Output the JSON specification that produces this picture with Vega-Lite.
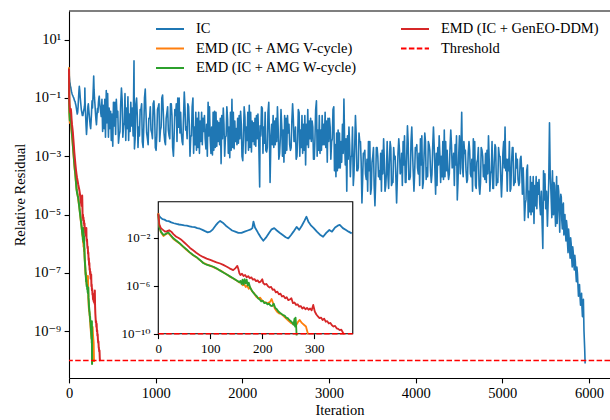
{
  "$schema": "https://vega.github.io/schema/vega-lite/v6.json",
  "width": 541,
  "height": 367,
  "autosize": "none",
  "padding": {"left": 69, "top": 11, "right": 0, "bottom": 42},
  "background": "white",
  "config": {
    "font": "Liberation Serif",
    "view": {"stroke": null},
    "axis": {
      "labelFont": "Liberation Serif, DejaVu Serif",
      "labelFontSize": 14.5,
      "labelColor": "#000",
      "titleFont": "Liberation Serif",
      "titleFontSize": 14.5,
      "titleFontWeight": "normal",
      "titleColor": "#000",
      "tickColor": "#000",
      "tickSize": 4.9,
      "tickWidth": 1.1,
      "labelPadding": 3.5,
      "grid": false,
      "domainColor": "#000",
      "domainWidth": 1.1,
      "labelFlush": false,
      "labelOverlap": false
    }
  },
  "datasets": {
    "ic": [
      {"iteration": 0, "residual": 0.79}, {"iteration": 4, "residual": 0.5}, {"iteration": 8, "residual": 0.35}, {"iteration": 12, "residual": 0.32},
      {"iteration": 16, "residual": 0.25}, {"iteration": 20, "residual": 0.24}, {"iteration": 25, "residual": 0.19}, {"iteration": 30, "residual": 0.16},
      {"iteration": 35, "residual": 0.14}, {"iteration": 40, "residual": 0.126}, {"iteration": 45, "residual": 0.117}, {"iteration": 50, "residual": 0.107},
      {"iteration": 55, "residual": 0.1}, {"iteration": 60, "residual": 0.089}, {"iteration": 65, "residual": 0.079}, {"iteration": 70, "residual": 0.076},
      {"iteration": 75, "residual": 0.063}, {"iteration": 80, "residual": 0.056}, {"iteration": 85, "residual": 0.045}, {"iteration": 90, "residual": 0.035},
      {"iteration": 95, "residual": 0.028}, {"iteration": 100, "residual": 0.032}, {"iteration": 105, "residual": 0.05}, {"iteration": 110, "residual": 0.1},
      {"iteration": 115, "residual": 0.18}, {"iteration": 119, "residual": 0.25}, {"iteration": 124, "residual": 0.18}, {"iteration": 130, "residual": 0.1},
      {"iteration": 136, "residual": 0.063}, {"iteration": 142, "residual": 0.04}, {"iteration": 148, "residual": 0.032}, {"iteration": 154, "residual": 0.025},
      {"iteration": 160, "residual": 0.025}, {"iteration": 166, "residual": 0.032}, {"iteration": 172, "residual": 0.04}, {"iteration": 178, "residual": 0.05},
      {"iteration": 181, "residual": 0.063}, {"iteration": 183, "residual": 0.22}, {"iteration": 186, "residual": 0.071}, {"iteration": 192, "residual": 0.025},
      {"iteration": 197, "residual": 0.011}, {"iteration": 202, "residual": 0.0056}, {"iteration": 207, "residual": 0.01}, {"iteration": 213, "residual": 0.025},
      {"iteration": 218, "residual": 0.05}, {"iteration": 223, "residual": 0.063}, {"iteration": 228, "residual": 0.04}, {"iteration": 234, "residual": 0.025},
      {"iteration": 240, "residual": 0.016}, {"iteration": 245, "residual": 0.011}, {"iteration": 250, "residual": 0.0089}, {"iteration": 255, "residual": 0.016},
      {"iteration": 260, "residual": 0.032}, {"iteration": 266, "residual": 0.079}, {"iteration": 271, "residual": 0.045}, {"iteration": 276, "residual": 0.1},
      {"iteration": 281, "residual": 0.25}, {"iteration": 285, "residual": 0.56}, {"iteration": 289, "residual": 0.2}, {"iteration": 294, "residual": 0.1},
      {"iteration": 299, "residual": 0.063}, {"iteration": 305, "residual": 0.032}, {"iteration": 311, "residual": 0.018}, {"iteration": 317, "residual": 0.012},
      {"iteration": 323, "residual": 0.025}, {"iteration": 329, "residual": 0.044}, {"iteration": 334, "residual": 0.032}, {"iteration": 340, "residual": 0.071},
      {"iteration": 345, "residual": 0.1}, {"iteration": 349, "residual": 0.115}, {"iteration": 355, "residual": 0.063}, {"iteration": 361, "residual": 0.044},
      {"iteration": 366, "residual": 0.032}, {"iteration": 372, "residual": 0.023},
      {"iteration": 380, "residual": 0.089}, {"iteration": 405, "residual": 0.0089}, {"iteration": 430, "residual": 0.18}, {"iteration": 455, "residual": 0.0045},
      {"iteration": 480, "residual": 0.035}, {"iteration": 505, "residual": 0.0022}, {"iteration": 530, "residual": 0.071}, {"iteration": 555, "residual": 0.022},
      {"iteration": 580, "residual": 0.0056}, {"iteration": 605, "residual": 0.22}, {"iteration": 630, "residual": 0.011}, {"iteration": 655, "residual": 0.0035},
      {"iteration": 680, "residual": 0.11}, {"iteration": 705, "residual": 0.0071}, {"iteration": 730, "residual": 0.045}, {"iteration": 750, "residual": 1.86},
      {"iteration": 755, "residual": 0.0018}, {"iteration": 780, "residual": 0.1}, {"iteration": 805, "residual": 0.01}, {"iteration": 830, "residual": 0.04},
      {"iteration": 855, "residual": 0.002}, {"iteration": 880, "residual": 0.2}, {"iteration": 905, "residual": 0.004}, {"iteration": 930, "residual": 0.02},
      {"iteration": 955, "residual": 0.0063}, {"iteration": 980, "residual": 0.079}, {"iteration": 1005, "residual": 0.0016}, {"iteration": 1030, "residual": 0.05},
      {"iteration": 1055, "residual": 0.0079}, {"iteration": 1080, "residual": 0.126}, {"iteration": 1105, "residual": 0.0032}, {"iteration": 1130, "residual": 0.032},
      {"iteration": 1155, "residual": 0.005}, {"iteration": 1180, "residual": 0.063}, {"iteration": 1205, "residual": 0.001}, {"iteration": 1230, "residual": 0.025},
      {"iteration": 1255, "residual": 0.1}, {"iteration": 1280, "residual": 0.0063}, {"iteration": 1305, "residual": 0.0032}, {"iteration": 1330, "residual": 0.16},
      {"iteration": 1355, "residual": 0.01}, {"iteration": 1380, "residual": 0.05}, {"iteration": 1405, "residual": 0.005}, {"iteration": 1430, "residual": 0.1},
      {"iteration": 1455, "residual": 0.0025}, {"iteration": 1480, "residual": 0.02}, {"iteration": 1505, "residual": 0.00126}, {"iteration": 1530, "residual": 0.032},
      {"iteration": 1555, "residual": 0.0071}, {"iteration": 1580, "residual": 0.0018}, {"iteration": 1605, "residual": 0.071}, {"iteration": 1630, "residual": 0.0035},
      {"iteration": 1655, "residual": 0.0011}, {"iteration": 1680, "residual": 0.035}, {"iteration": 1705, "residual": 0.0022}, {"iteration": 1730, "residual": 0.014},
      {"iteration": 1755, "residual": 0.00056}, {"iteration": 1780, "residual": 0.045}, {"iteration": 1805, "residual": 0.0045}, {"iteration": 1830, "residual": 0.018},
      {"iteration": 1855, "residual": 0.00089}, {"iteration": 1880, "residual": 0.089}, {"iteration": 1905, "residual": 0.0018}, {"iteration": 1930, "residual": 0.0089},
      {"iteration": 1955, "residual": 0.0028}, {"iteration": 1980, "residual": 0.035}, {"iteration": 2005, "residual": 0.00071}, {"iteration": 2030, "residual": 0.022},
      {"iteration": 2055, "residual": 0.0035}, {"iteration": 2080, "residual": 0.056}, {"iteration": 2105, "residual": 0.0014}, {"iteration": 2130, "residual": 0.014},
      {"iteration": 2155, "residual": 0.0022}, {"iteration": 2180, "residual": 0.028}, {"iteration": 2200, "residual": 0.000089}, {"iteration": 2205, "residual": 0.011},
      {"iteration": 2230, "residual": 0.045}, {"iteration": 2255, "residual": 0.0028}, {"iteration": 2280, "residual": 0.0014}, {"iteration": 2305, "residual": 0.071},
      {"iteration": 2320, "residual": 0.000126}, {"iteration": 2330, "residual": 0.0045}, {"iteration": 2355, "residual": 0.025}, {"iteration": 2380, "residual": 0.0025},
      {"iteration": 2405, "residual": 0.05}, {"iteration": 2430, "residual": 0.00126}, {"iteration": 2455, "residual": 0.01}, {"iteration": 2480, "residual": 0.00063},
      {"iteration": 2505, "residual": 0.02}, {"iteration": 2530, "residual": 0.0063}, {"iteration": 2555, "residual": 0.0016}, {"iteration": 2580, "residual": 0.063},
      {"iteration": 2605, "residual": 0.0032}, {"iteration": 2630, "residual": 0.001}, {"iteration": 2655, "residual": 0.032}, {"iteration": 2680, "residual": 0.002},
      {"iteration": 2705, "residual": 0.0126}, {"iteration": 2730, "residual": 0.0005}, {"iteration": 2755, "residual": 0.04}, {"iteration": 2780, "residual": 0.004},
      {"iteration": 2805, "residual": 0.016}, {"iteration": 2830, "residual": 0.00079}, {"iteration": 2855, "residual": 0.079}, {"iteration": 2880, "residual": 0.0016},
      {"iteration": 2905, "residual": 0.0079}, {"iteration": 2930, "residual": 0.0025}, {"iteration": 2955, "residual": 0.032}, {"iteration": 2980, "residual": 0.00063},
      {"iteration": 3005, "residual": 0.02}, {"iteration": 3030, "residual": 0.0032}, {"iteration": 3055, "residual": 0.05}, {"iteration": 3080, "residual": 0.0002},
      {"iteration": 3105, "residual": 0.0079}, {"iteration": 3130, "residual": 0.0004}, {"iteration": 3155, "residual": 0.0126}, {"iteration": 3172, "residual": 0.091},
      {"iteration": 3180, "residual": 0.0032}, {"iteration": 3205, "residual": 0.000063}, {"iteration": 3230, "residual": 0.01}, {"iteration": 3255, "residual": 0.001},
      {"iteration": 3280, "residual": 0.0001}, {"iteration": 3305, "residual": 0.025}, {"iteration": 3330, "residual": 0.00032}, {"iteration": 3355, "residual": 0.0032},
      {"iteration": 3380, "residual": 0.000025}, {"iteration": 3405, "residual": 0.00126}, {"iteration": 3430, "residual": 0.00016}, {"iteration": 3455, "residual": 0.0032},
      {"iteration": 3480, "residual": 0.00005}, {"iteration": 3505, "residual": 0.001}, {"iteration": 3530, "residual": 0.00002}, {"iteration": 3555, "residual": 0.002},
      {"iteration": 3580, "residual": 0.00032}, {"iteration": 3605, "residual": 0.000063}, {"iteration": 3630, "residual": 0.004}, {"iteration": 3655, "residual": 0.0001},
      {"iteration": 3680, "residual": 0.0002}, {"iteration": 3705, "residual": 0.0032}, {"iteration": 3730, "residual": 0.000126}, {"iteration": 3755, "residual": 0.00079},
      {"iteration": 3780, "residual": 0.000025}, {"iteration": 3805, "residual": 0.004}, {"iteration": 3830, "residual": 0.00032}, {"iteration": 3855, "residual": 0.0032},
      {"iteration": 3880, "residual": 0.000126}, {"iteration": 3905, "residual": 0.011}, {"iteration": 3930, "residual": 0.00016}, {"iteration": 3955, "residual": 0.01},
      {"iteration": 3980, "residual": 0.000063}, {"iteration": 4005, "residual": 0.0016}, {"iteration": 4030, "residual": 0.00025}, {"iteration": 4055, "residual": 0.004},
      {"iteration": 4080, "residual": 0.000079}, {"iteration": 4105, "residual": 0.0063}, {"iteration": 4130, "residual": 0.0004}, {"iteration": 4155, "residual": 0.0025},
      {"iteration": 4180, "residual": 0.000126}, {"iteration": 4205, "residual": 0.01}, {"iteration": 4230, "residual": 0.00005}, {"iteration": 4255, "residual": 0.002},
      {"iteration": 4280, "residual": 0.001}, {"iteration": 4305, "residual": 0.0002}, {"iteration": 4330, "residual": 0.0079}, {"iteration": 4355, "residual": 0.00032},
      {"iteration": 4380, "residual": 0.00016}, {"iteration": 4405, "residual": 0.0079}, {"iteration": 4430, "residual": 0.0005}, {"iteration": 4455, "residual": 0.0025},
      {"iteration": 4480, "residual": 0.000032}, {"iteration": 4505, "residual": 0.005}, {"iteration": 4531, "residual": 0.032}, {"iteration": 4540, "residual": 0.0004},
      {"iteration": 4565, "residual": 0.00126}, {"iteration": 4590, "residual": 0.000126}, {"iteration": 4615, "residual": 0.0032}, {"iteration": 4640, "residual": 0.0002},
      {"iteration": 4665, "residual": 0.004}, {"iteration": 4690, "residual": 0.0001}, {"iteration": 4715, "residual": 0.00079}, {"iteration": 4740, "residual": 0.00005},
      {"iteration": 4765, "residual": 0.0016}, {"iteration": 4790, "residual": 0.0005}, {"iteration": 4815, "residual": 0.000126}, {"iteration": 4840, "residual": 0.005},
      {"iteration": 4865, "residual": 0.00025}, {"iteration": 4890, "residual": 0.000079}, {"iteration": 4915, "residual": 0.0025}, {"iteration": 4940, "residual": 0.00016},
      {"iteration": 4965, "residual": 0.001}, {"iteration": 4990, "residual": 0.00004}, {"iteration": 5015, "residual": 0.0032}, {"iteration": 5031, "residual": 0.01},
      {"iteration": 5040, "residual": 0.00032}, {"iteration": 5065, "residual": 0.00079}, {"iteration": 5090, "residual": 0.000063}, {"iteration": 5115, "residual": 0.002},
      {"iteration": 5140, "residual": 0.000126}, {"iteration": 5165, "residual": 0.0004}, {"iteration": 5190, "residual": 0.0001}, {"iteration": 5215, "residual": 0.001},
      {"iteration": 5240, "residual": 0.0004}, {"iteration": 5265, "residual": 0.000025}, {"iteration": 5290, "residual": 0.0005}, {"iteration": 5315, "residual": 0.0000126},
      {"iteration": 5340, "residual": 0.000126}, {"iteration": 5365, "residual": 0.000005}, {"iteration": 5390, "residual": 0.0002}, {"iteration": 5415, "residual": 0.00005},
      {"iteration": 5440, "residual": 0.00001}, {"iteration": 5467, "residual": 6.9e-7}, {"iteration": 5475, "residual": 0.00032}, {"iteration": 5500, "residual": 0.000016},
      {"iteration": 5520, "residual": 0.000004}, {"iteration": 5535, "residual": 0.000126}, {"iteration": 5544, "residual": 0.014}, {"iteration": 5552, "residual": 0.00025},
      {"iteration": 5565, "residual": 0.000025}, {"iteration": 5578, "residual": 0.00032}, {"iteration": 5590, "residual": 0.00001}, {"iteration": 5602, "residual": 0.0001},
      {"iteration": 5614, "residual": 0.000004}, {"iteration": 5626, "residual": 0.0002}, {"iteration": 5638, "residual": 0.000016}, {"iteration": 5650, "residual": 0.000063},
      {"iteration": 5662, "residual": 0.0000025}, {"iteration": 5674, "residual": 0.00005}, {"iteration": 5686, "residual": 0.0000063}, {"iteration": 5698, "residual": 0.00002},
      {"iteration": 5710, "residual": 0.000002}, {"iteration": 5722, "residual": 0.00001}, {"iteration": 5734, "residual": 0.00000126}, {"iteration": 5746, "residual": 0.000004},
      {"iteration": 5758, "residual": 5.0e-7}, {"iteration": 5770, "residual": 1.6e-6}, {"iteration": 5782, "residual": 3.2e-7}, {"iteration": 5794, "residual": 1.0e-6},
      {"iteration": 5806, "residual": 1.6e-7}, {"iteration": 5818, "residual": 5.0e-7}, {"iteration": 5830, "residual": 1.26e-7}, {"iteration": 5842, "residual": 2.5e-7},
      {"iteration": 5854, "residual": 5.0e-8}, {"iteration": 5866, "residual": 1.0e-7}, {"iteration": 5878, "residual": 1.6e-8}, {"iteration": 5890, "residual": 4.0e-8},
      {"iteration": 5902, "residual": 7.9e-9}, {"iteration": 5914, "residual": 2.0e-8}, {"iteration": 5924, "residual": 3.2e-9}, {"iteration": 5935, "residual": 1.26e-8},
      {"iteration": 5942, "residual": 1.0e-9}, {"iteration": 5950, "residual": 2.5e-10}, {"iteration": 5955, "residual": 7.9e-11},

      {"iteration": 388, "residual": 0.0071}, {"iteration": 396, "residual": 0.056}, {"iteration": 413, "residual": 0.089}, {"iteration": 421, "residual": 0.0045},
      {"iteration": 438, "residual": 0.014}, {"iteration": 446, "residual": 0.14}, {"iteration": 463, "residual": 0.045}, {"iteration": 471, "residual": 0.0089},
      {"iteration": 488, "residual": 0.0035}, {"iteration": 496, "residual": 0.028}, {"iteration": 513, "residual": 0.071}, {"iteration": 521, "residual": 0.011},
      {"iteration": 538, "residual": 0.0056}, {"iteration": 546, "residual": 0.089}, {"iteration": 563, "residual": 0.035}, {"iteration": 571, "residual": 0.0028},
      {"iteration": 588, "residual": 0.0071}, {"iteration": 596, "residual": 0.056}, {"iteration": 613, "residual": 0.089}, {"iteration": 621, "residual": 0.0045},
      {"iteration": 638, "residual": 0.014}, {"iteration": 646, "residual": 0.14}, {"iteration": 663, "residual": 0.045}, {"iteration": 671, "residual": 0.0089},
      {"iteration": 688, "residual": 0.0035}, {"iteration": 696, "residual": 0.028}, {"iteration": 713, "residual": 0.071}, {"iteration": 721, "residual": 0.011},
      {"iteration": 740, "residual": 0.005}, {"iteration": 763, "residual": 0.004}, {"iteration": 771, "residual": 0.063},
      {"iteration": 788, "residual": 0.025}, {"iteration": 796, "residual": 0.002}, {"iteration": 813, "residual": 0.005}, {"iteration": 821, "residual": 0.04},
      {"iteration": 838, "residual": 0.063}, {"iteration": 846, "residual": 0.0032}, {"iteration": 863, "residual": 0.01}, {"iteration": 871, "residual": 0.1},
      {"iteration": 888, "residual": 0.032}, {"iteration": 896, "residual": 0.0063}, {"iteration": 913, "residual": 0.0025}, {"iteration": 921, "residual": 0.02},
      {"iteration": 938, "residual": 0.05}, {"iteration": 946, "residual": 0.0079}, {"iteration": 963, "residual": 0.004}, {"iteration": 971, "residual": 0.063},
      {"iteration": 988, "residual": 0.025}, {"iteration": 996, "residual": 0.002}, {"iteration": 1013, "residual": 0.005}, {"iteration": 1021, "residual": 0.04},
      {"iteration": 1038, "residual": 0.063}, {"iteration": 1046, "residual": 0.0032}, {"iteration": 1063, "residual": 0.01}, {"iteration": 1071, "residual": 0.1},
      {"iteration": 1088, "residual": 0.032}, {"iteration": 1096, "residual": 0.0063}, {"iteration": 1113, "residual": 0.0025}, {"iteration": 1121, "residual": 0.02},
      {"iteration": 1138, "residual": 0.05}, {"iteration": 1146, "residual": 0.0079}, {"iteration": 1163, "residual": 0.004}, {"iteration": 1171, "residual": 0.063},
      {"iteration": 1188, "residual": 0.025}, {"iteration": 1196, "residual": 0.002}, {"iteration": 1213, "residual": 0.005}, {"iteration": 1221, "residual": 0.04},
      {"iteration": 1238, "residual": 0.063}, {"iteration": 1246, "residual": 0.0032}, {"iteration": 1263, "residual": 0.01}, {"iteration": 1271, "residual": 0.1},
      {"iteration": 1288, "residual": 0.032}, {"iteration": 1296, "residual": 0.0063}, {"iteration": 1313, "residual": 0.0025}, {"iteration": 1321, "residual": 0.02},
      {"iteration": 1338, "residual": 0.05}, {"iteration": 1346, "residual": 0.0079}, {"iteration": 1363, "residual": 0.004}, {"iteration": 1371, "residual": 0.063},
      {"iteration": 1388, "residual": 0.0126}, {"iteration": 1396, "residual": 0.001}, {"iteration": 1413, "residual": 0.005}, {"iteration": 1421, "residual": 0.05},
      {"iteration": 1438, "residual": 0.00126}, {"iteration": 1446, "residual": 0.01}, {"iteration": 1463, "residual": 0.032}, {"iteration": 1471, "residual": 0.0016},
      {"iteration": 1488, "residual": 0.002}, {"iteration": 1496, "residual": 0.032}, {"iteration": 1513, "residual": 0.016}, {"iteration": 1521, "residual": 0.0032},
      {"iteration": 1538, "residual": 0.0025}, {"iteration": 1546, "residual": 0.02}, {"iteration": 1563, "residual": 0.025}, {"iteration": 1571, "residual": 0.004},
      {"iteration": 1588, "residual": 0.0126}, {"iteration": 1596, "residual": 0.001}, {"iteration": 1613, "residual": 0.005}, {"iteration": 1621, "residual": 0.05},
      {"iteration": 1638, "residual": 0.00126}, {"iteration": 1646, "residual": 0.01}, {"iteration": 1663, "residual": 0.032}, {"iteration": 1671, "residual": 0.0016},
      {"iteration": 1688, "residual": 0.002}, {"iteration": 1696, "residual": 0.032}, {"iteration": 1713, "residual": 0.016}, {"iteration": 1721, "residual": 0.0032},
      {"iteration": 1738, "residual": 0.0025}, {"iteration": 1746, "residual": 0.02}, {"iteration": 1763, "residual": 0.025}, {"iteration": 1771, "residual": 0.004},
      {"iteration": 1788, "residual": 0.0126}, {"iteration": 1796, "residual": 0.001}, {"iteration": 1813, "residual": 0.005}, {"iteration": 1821, "residual": 0.05},
      {"iteration": 1838, "residual": 0.00126}, {"iteration": 1846, "residual": 0.01}, {"iteration": 1863, "residual": 0.032}, {"iteration": 1871, "residual": 0.0016},
      {"iteration": 1888, "residual": 0.002}, {"iteration": 1896, "residual": 0.032}, {"iteration": 1913, "residual": 0.016}, {"iteration": 1921, "residual": 0.0032},
      {"iteration": 1938, "residual": 0.0025}, {"iteration": 1946, "residual": 0.02}, {"iteration": 1963, "residual": 0.025}, {"iteration": 1971, "residual": 0.004},
      {"iteration": 1988, "residual": 0.0126}, {"iteration": 1996, "residual": 0.001}, {"iteration": 2013, "residual": 0.005}, {"iteration": 2021, "residual": 0.05},
      {"iteration": 2038, "residual": 0.00126}, {"iteration": 2046, "residual": 0.01}, {"iteration": 2063, "residual": 0.032}, {"iteration": 2071, "residual": 0.0016},
      {"iteration": 2088, "residual": 0.002}, {"iteration": 2096, "residual": 0.032}, {"iteration": 2113, "residual": 0.016}, {"iteration": 2121, "residual": 0.0032},
      {"iteration": 2138, "residual": 0.0025}, {"iteration": 2146, "residual": 0.02}, {"iteration": 2163, "residual": 0.025}, {"iteration": 2171, "residual": 0.004},
      {"iteration": 2190, "residual": 0.0025}, {"iteration": 2213, "residual": 0.005}, {"iteration": 2221, "residual": 0.05},
      {"iteration": 2238, "residual": 0.00126}, {"iteration": 2246, "residual": 0.01}, {"iteration": 2263, "residual": 0.032}, {"iteration": 2271, "residual": 0.0016},
      {"iteration": 2288, "residual": 0.002}, {"iteration": 2296, "residual": 0.032}, {"iteration": 2312, "residual": 0.0063}, {"iteration": 2338, "residual": 0.0126},
      {"iteration": 2346, "residual": 0.0025}, {"iteration": 2363, "residual": 0.002}, {"iteration": 2371, "residual": 0.016},
      {"iteration": 2388, "residual": 0.02}, {"iteration": 2396, "residual": 0.0032}, {"iteration": 2413, "residual": 0.01}, {"iteration": 2421, "residual": 0.00079},
      {"iteration": 2438, "residual": 0.004}, {"iteration": 2446, "residual": 0.04}, {"iteration": 2463, "residual": 0.001}, {"iteration": 2471, "residual": 0.0079},
      {"iteration": 2488, "residual": 0.025}, {"iteration": 2496, "residual": 0.00126}, {"iteration": 2513, "residual": 0.0016}, {"iteration": 2521, "residual": 0.025},
      {"iteration": 2538, "residual": 0.0126}, {"iteration": 2546, "residual": 0.0025}, {"iteration": 2563, "residual": 0.002}, {"iteration": 2571, "residual": 0.016},
      {"iteration": 2588, "residual": 0.02}, {"iteration": 2596, "residual": 0.0032}, {"iteration": 2613, "residual": 0.01}, {"iteration": 2621, "residual": 0.00079},
      {"iteration": 2638, "residual": 0.004}, {"iteration": 2646, "residual": 0.04}, {"iteration": 2663, "residual": 0.001}, {"iteration": 2671, "residual": 0.0079},
      {"iteration": 2688, "residual": 0.025}, {"iteration": 2696, "residual": 0.00126}, {"iteration": 2713, "residual": 0.0016}, {"iteration": 2721, "residual": 0.025},
      {"iteration": 2738, "residual": 0.0126}, {"iteration": 2746, "residual": 0.0025}, {"iteration": 2763, "residual": 0.002}, {"iteration": 2771, "residual": 0.016},
      {"iteration": 2788, "residual": 0.02}, {"iteration": 2796, "residual": 0.0032}, {"iteration": 2813, "residual": 0.01}, {"iteration": 2821, "residual": 0.00079},
      {"iteration": 2838, "residual": 0.004}, {"iteration": 2846, "residual": 0.04}, {"iteration": 2863, "residual": 0.001}, {"iteration": 2871, "residual": 0.0079},
      {"iteration": 2888, "residual": 0.025}, {"iteration": 2896, "residual": 0.00126}, {"iteration": 2913, "residual": 0.0016}, {"iteration": 2921, "residual": 0.025},
      {"iteration": 2938, "residual": 0.0126}, {"iteration": 2946, "residual": 0.0025}, {"iteration": 2963, "residual": 0.002}, {"iteration": 2971, "residual": 0.016},
      {"iteration": 2988, "residual": 0.02}, {"iteration": 2996, "residual": 0.0032}, {"iteration": 3013, "residual": 0.01}, {"iteration": 3021, "residual": 0.00079},
      {"iteration": 3038, "residual": 0.004}, {"iteration": 3046, "residual": 0.04}, {"iteration": 3063, "residual": 0.00032}, {"iteration": 3071, "residual": 0.0025},
      {"iteration": 3088, "residual": 0.0063}, {"iteration": 3096, "residual": 0.00032}, {"iteration": 3113, "residual": 0.0004}, {"iteration": 3121, "residual": 0.0063},
      {"iteration": 3138, "residual": 0.0032}, {"iteration": 3146, "residual": 0.00063}, {"iteration": 3164, "residual": 0.00126}, {"iteration": 3188, "residual": 0.0005},
      {"iteration": 3196, "residual": 0.004}, {"iteration": 3213, "residual": 0.005}, {"iteration": 3221, "residual": 0.00079}, {"iteration": 3238, "residual": 0.0025},
      {"iteration": 3246, "residual": 0.0002}, {"iteration": 3263, "residual": 0.001}, {"iteration": 3271, "residual": 0.01}, {"iteration": 3288, "residual": 0.00025},
      {"iteration": 3296, "residual": 0.002}, {"iteration": 3313, "residual": 0.0063}, {"iteration": 3321, "residual": 0.00032}, {"iteration": 3338, "residual": 0.0004},
      {"iteration": 3346, "residual": 0.0063}, {"iteration": 3363, "residual": 0.0032}, {"iteration": 3371, "residual": 0.00063},
      {"iteration": 3388, "residual": 0.00016}, {"iteration": 3396, "residual": 0.00126}, {"iteration": 3413, "residual": 0.0016}, {"iteration": 3421, "residual": 0.00025},
      {"iteration": 3438, "residual": 0.00079}, {"iteration": 3446, "residual": 0.000063}, {"iteration": 3463, "residual": 0.00032}, {"iteration": 3471, "residual": 0.0032},
      {"iteration": 3488, "residual": 0.000079}, {"iteration": 3496, "residual": 0.00063}, {"iteration": 3513, "residual": 0.002}, {"iteration": 3521, "residual": 0.0001},
      {"iteration": 3538, "residual": 0.000126}, {"iteration": 3546, "residual": 0.002}, {"iteration": 3563, "residual": 0.001}, {"iteration": 3571, "residual": 0.0002},
      {"iteration": 3588, "residual": 0.00016}, {"iteration": 3596, "residual": 0.00126}, {"iteration": 3613, "residual": 0.0016}, {"iteration": 3621, "residual": 0.00025},
      {"iteration": 3638, "residual": 0.00079}, {"iteration": 3646, "residual": 0.000063}, {"iteration": 3663, "residual": 0.00032}, {"iteration": 3671, "residual": 0.0032},
      {"iteration": 3688, "residual": 0.000079}, {"iteration": 3696, "residual": 0.00063}, {"iteration": 3713, "residual": 0.002}, {"iteration": 3721, "residual": 0.0001},
      {"iteration": 3738, "residual": 0.000126}, {"iteration": 3746, "residual": 0.002}, {"iteration": 3763, "residual": 0.001}, {"iteration": 3771, "residual": 0.0002},
      {"iteration": 3788, "residual": 0.00016}, {"iteration": 3796, "residual": 0.00126}, {"iteration": 3813, "residual": 0.0016}, {"iteration": 3821, "residual": 0.00025},
      {"iteration": 3838, "residual": 0.00126}, {"iteration": 3846, "residual": 0.0001},
      {"iteration": 3863, "residual": 0.0005}, {"iteration": 3871, "residual": 0.005}, {"iteration": 3888, "residual": 0.000126}, {"iteration": 3896, "residual": 0.001},
      {"iteration": 3913, "residual": 0.0032}, {"iteration": 3921, "residual": 0.00016}, {"iteration": 3938, "residual": 0.0002}, {"iteration": 3946, "residual": 0.0032},
      {"iteration": 3963, "residual": 0.0016}, {"iteration": 3971, "residual": 0.00032}, {"iteration": 3988, "residual": 0.00025}, {"iteration": 3996, "residual": 0.002},
      {"iteration": 4013, "residual": 0.0025}, {"iteration": 4021, "residual": 0.0004}, {"iteration": 4038, "residual": 0.00126}, {"iteration": 4046, "residual": 0.0001},
      {"iteration": 4063, "residual": 0.0005}, {"iteration": 4071, "residual": 0.005}, {"iteration": 4088, "residual": 0.000126}, {"iteration": 4096, "residual": 0.001},
      {"iteration": 4113, "residual": 0.0032}, {"iteration": 4121, "residual": 0.00016}, {"iteration": 4138, "residual": 0.0002}, {"iteration": 4146, "residual": 0.0032},
      {"iteration": 4163, "residual": 0.0016}, {"iteration": 4171, "residual": 0.00032}, {"iteration": 4188, "residual": 0.00025}, {"iteration": 4196, "residual": 0.002},
      {"iteration": 4213, "residual": 0.0025}, {"iteration": 4221, "residual": 0.0004}, {"iteration": 4238, "residual": 0.00126}, {"iteration": 4246, "residual": 0.0001},
      {"iteration": 4263, "residual": 0.0005}, {"iteration": 4271, "residual": 0.005}, {"iteration": 4288, "residual": 0.000126}, {"iteration": 4296, "residual": 0.001},
      {"iteration": 4313, "residual": 0.0032}, {"iteration": 4321, "residual": 0.00016}, {"iteration": 4338, "residual": 0.0002}, {"iteration": 4346, "residual": 0.0032},
      {"iteration": 4363, "residual": 0.0016}, {"iteration": 4371, "residual": 0.00032}, {"iteration": 4388, "residual": 0.00025}, {"iteration": 4396, "residual": 0.002},
      {"iteration": 4413, "residual": 0.0025}, {"iteration": 4421, "residual": 0.0004}, {"iteration": 4438, "residual": 0.00126}, {"iteration": 4446, "residual": 0.0001},
      {"iteration": 4463, "residual": 0.0005}, {"iteration": 4471, "residual": 0.005}, {"iteration": 4488, "residual": 0.000126}, {"iteration": 4496, "residual": 0.001},
      {"iteration": 4515, "residual": 0.00025}, {"iteration": 4523, "residual": 0.002}, {"iteration": 4548, "residual": 0.0002}, {"iteration": 4556, "residual": 0.0032},
      {"iteration": 4573, "residual": 0.0016}, {"iteration": 4581, "residual": 0.00032}, {"iteration": 4598, "residual": 0.00016}, {"iteration": 4606, "residual": 0.00126},
      {"iteration": 4623, "residual": 0.0016}, {"iteration": 4631, "residual": 0.00025}, {"iteration": 4648, "residual": 0.00079}, {"iteration": 4656, "residual": 0.000063},
      {"iteration": 4673, "residual": 0.00032}, {"iteration": 4681, "residual": 0.0032}, {"iteration": 4698, "residual": 0.000079}, {"iteration": 4706, "residual": 0.00063},
      {"iteration": 4723, "residual": 0.002}, {"iteration": 4731, "residual": 0.0001}, {"iteration": 4748, "residual": 0.000126}, {"iteration": 4756, "residual": 0.002},
      {"iteration": 4773, "residual": 0.001}, {"iteration": 4781, "residual": 0.0002}, {"iteration": 4798, "residual": 0.00016}, {"iteration": 4806, "residual": 0.00126},
      {"iteration": 4823, "residual": 0.0016}, {"iteration": 4831, "residual": 0.00025}, {"iteration": 4848, "residual": 0.00079}, {"iteration": 4856, "residual": 0.000063},
      {"iteration": 4873, "residual": 0.00032}, {"iteration": 4881, "residual": 0.0032}, {"iteration": 4898, "residual": 0.000079}, {"iteration": 4906, "residual": 0.00063},
      {"iteration": 4923, "residual": 0.002}, {"iteration": 4931, "residual": 0.0001}, {"iteration": 4948, "residual": 0.000126}, {"iteration": 4956, "residual": 0.002},
      {"iteration": 4973, "residual": 0.001}, {"iteration": 4981, "residual": 0.0002}, {"iteration": 4998, "residual": 0.00016}, {"iteration": 5006, "residual": 0.00126},
      {"iteration": 5023, "residual": 0.0004}, {"iteration": 5048, "residual": 0.00079}, {"iteration": 5056, "residual": 0.000063}, {"iteration": 5073, "residual": 0.00032},
      {"iteration": 5081, "residual": 0.0032}, {"iteration": 5098, "residual": 0.000079}, {"iteration": 5106, "residual": 0.00063}, {"iteration": 5123, "residual": 0.002},
      {"iteration": 5131, "residual": 0.0001}, {"iteration": 5148, "residual": 0.000126}, {"iteration": 5156, "residual": 0.00126}, {"iteration": 5173, "residual": 0.00079},
      {"iteration": 5181, "residual": 0.00016}, {"iteration": 5198, "residual": 0.000126}, {"iteration": 5206, "residual": 0.00079}, {"iteration": 5223, "residual": 0.00032},
      {"iteration": 5231, "residual": 0.00005}, {"iteration": 5248, "residual": 0.000079}, {"iteration": 5256, "residual": 0.0000063}, {"iteration": 5273, "residual": 0.000032},
      {"iteration": 5281, "residual": 0.00032}, {"iteration": 5298, "residual": 0.0000079}, {"iteration": 5306, "residual": 0.000063}, {"iteration": 5323, "residual": 0.0002},
      {"iteration": 5331, "residual": 0.00001}, {"iteration": 5348, "residual": 0.0000126}, {"iteration": 5356, "residual": 0.0002}, {"iteration": 5373, "residual": 0.0001},
      {"iteration": 5381, "residual": 0.00002}, {"iteration": 5398, "residual": 0.000016}, {"iteration": 5406, "residual": 0.000126}, {"iteration": 5423, "residual": 0.00016},
      {"iteration": 5431, "residual": 0.000025}, {"iteration": 5450, "residual": 0.000063}, {"iteration": 5458, "residual": 0.0000063}, {"iteration": 5483, "residual": 0.000032},
      {"iteration": 5491, "residual": 0.00025}, {"iteration": 5510, "residual": 0.000063}, {"iteration": 5528, "residual": 0.000025},
      {"iteration": 5558, "residual": 0.0001}, {"iteration": 5571, "residual": 0.0000079}, {"iteration": 5584, "residual": 0.00005}, {"iteration": 5596, "residual": 0.000126},
      {"iteration": 5608, "residual": 0.0000126}, {"iteration": 5620, "residual": 0.000032}, {"iteration": 5632, "residual": 0.000005}, {"iteration": 5644, "residual": 0.0001},
      {"iteration": 5656, "residual": 0.0000126}, {"iteration": 5668, "residual": 0.000025}, {"iteration": 5680, "residual": 0.00004}, {"iteration": 5692, "residual": 0.0000032},
      {"iteration": 5704, "residual": 0.000025}, {"iteration": 5716, "residual": 0.000005}, {"iteration": 5728, "residual": 0.0000025}, {"iteration": 5740, "residual": 0.0000063},
      {"iteration": 5752, "residual": 1.0e-6}, {"iteration": 5764, "residual": 3.2e-6}, {"iteration": 5776, "residual": 6.3e-7}, {"iteration": 5788, "residual": 1.6e-6},
      {"iteration": 5800, "residual": 3.2e-7}, {"iteration": 5812, "residual": 7.9e-7}, {"iteration": 5824, "residual": 2.0e-7}, {"iteration": 5836, "residual": 4.0e-7},
      {"iteration": 5848, "residual": 1.0e-7}, {"iteration": 5860, "residual": 1.6e-7}, {"iteration": 5872, "residual": 4.0e-8}, {"iteration": 5884, "residual": 2.5e-8},
      {"iteration": 5896, "residual": 1.6e-8}, {"iteration": 5908, "residual": 1.26e-8}, {"iteration": 5919, "residual": 6.3e-9}, {"iteration": 5930, "residual": 5.0e-9},
      {"iteration": 5946, "residual": 5.0e-10}
    ],
    "vcycle": [
      {"iteration": 0, "residual": 1.12}, {"iteration": 2, "residual": 0.1}, {"iteration": 5, "residual": 0.028}, {"iteration": 10, "residual": 0.014},
      {"iteration": 14, "residual": 0.019}, {"iteration": 19, "residual": 0.025}, {"iteration": 24, "residual": 0.014}, {"iteration": 29, "residual": 0.0079},
      {"iteration": 35, "residual": 0.005}, {"iteration": 41, "residual": 0.0032}, {"iteration": 48, "residual": 0.0017}, {"iteration": 54, "residual": 0.001},
      {"iteration": 60, "residual": 0.0006}, {"iteration": 67, "residual": 0.00035}, {"iteration": 73, "residual": 0.00024}, {"iteration": 80, "residual": 0.000135},
      {"iteration": 87, "residual": 7.9e-5}, {"iteration": 93, "residual": 6.0e-5}, {"iteration": 100, "residual": 4.7e-5}, {"iteration": 106, "residual": 3.5e-5},
      {"iteration": 112, "residual": 2.6e-5}, {"iteration": 119, "residual": 1.9e-5}, {"iteration": 125, "residual": 1.3e-5}, {"iteration": 131, "residual": 8.9e-6},
      {"iteration": 137, "residual": 6.0e-6}, {"iteration": 144, "residual": 4.0e-6}, {"iteration": 150, "residual": 2.8e-6}, {"iteration": 156, "residual": 1.8e-6},
      {"iteration": 159, "residual": 2.2e-6}, {"iteration": 162, "residual": 1.1e-6}, {"iteration": 165, "residual": 1.4e-6}, {"iteration": 168, "residual": 7.9e-7},
      {"iteration": 171, "residual": 1.0e-6}, {"iteration": 174, "residual": 5.6e-7}, {"iteration": 177, "residual": 7.1e-7}, {"iteration": 180, "residual": 3.5e-7},
      {"iteration": 184, "residual": 2.5e-7}, {"iteration": 188, "residual": 1.26e-7}, {"iteration": 192, "residual": 8.9e-8}, {"iteration": 196, "residual": 1.0e-7},
      {"iteration": 200, "residual": 5.6e-8}, {"iteration": 205, "residual": 4.0e-8}, {"iteration": 210, "residual": 3.5e-8}, {"iteration": 215, "residual": 4.5e-8},
      {"iteration": 218, "residual": 7.9e-8}, {"iteration": 221, "residual": 3.2e-8}, {"iteration": 224, "residual": 1.26e-8}, {"iteration": 228, "residual": 7.1e-9},
      {"iteration": 232, "residual": 5.0e-9}, {"iteration": 236, "residual": 4.5e-9}, {"iteration": 240, "residual": 3.2e-9}, {"iteration": 245, "residual": 2.0e-9},
      {"iteration": 250, "residual": 1.26e-9}, {"iteration": 255, "residual": 7.9e-10}, {"iteration": 260, "residual": 6.3e-10}, {"iteration": 265, "residual": 5.0e-10},
      {"iteration": 269, "residual": 1.0e-9}, {"iteration": 272, "residual": 1.4e-9}, {"iteration": 276, "residual": 7.9e-10}, {"iteration": 280, "residual": 5.6e-10},
      {"iteration": 284, "residual": 4.0e-10}, {"iteration": 288, "residual": 8.9e-11}
    ],
    "wcycle": [
      {"iteration": 0, "residual": 1.0}, {"iteration": 2, "residual": 0.079}, {"iteration": 5, "residual": 0.032}, {"iteration": 10, "residual": 0.017},
      {"iteration": 14, "residual": 0.02}, {"iteration": 19, "residual": 0.028}, {"iteration": 24, "residual": 0.016}, {"iteration": 29, "residual": 0.0089},
      {"iteration": 35, "residual": 0.0056}, {"iteration": 41, "residual": 0.0035}, {"iteration": 48, "residual": 0.0018}, {"iteration": 54, "residual": 0.0011},
      {"iteration": 60, "residual": 0.00063}, {"iteration": 67, "residual": 0.00036}, {"iteration": 73, "residual": 0.00025}, {"iteration": 80, "residual": 0.00014},
      {"iteration": 87, "residual": 7.4e-5}, {"iteration": 93, "residual": 5.6e-5}, {"iteration": 100, "residual": 4.5e-5}, {"iteration": 106, "residual": 3.8e-5},
      {"iteration": 112, "residual": 2.8e-5}, {"iteration": 119, "residual": 1.8e-5}, {"iteration": 125, "residual": 1.26e-5}, {"iteration": 131, "residual": 8.9e-6},
      {"iteration": 137, "residual": 6.3e-6}, {"iteration": 144, "residual": 4.2e-6}, {"iteration": 150, "residual": 2.8e-6}, {"iteration": 156, "residual": 2.0e-6},
      {"iteration": 158, "residual": 2.5e-6}, {"iteration": 160, "residual": 1.4e-6}, {"iteration": 162, "residual": 3.2e-6}, {"iteration": 164, "residual": 1.26e-6},
      {"iteration": 166, "residual": 3.5e-6}, {"iteration": 168, "residual": 1.6e-6}, {"iteration": 170, "residual": 3.2e-6}, {"iteration": 172, "residual": 1.0e-6},
      {"iteration": 174, "residual": 1.8e-6}, {"iteration": 177, "residual": 6.3e-7}, {"iteration": 180, "residual": 4.0e-7}, {"iteration": 183, "residual": 2.5e-7},
      {"iteration": 186, "residual": 1.8e-7}, {"iteration": 189, "residual": 1.4e-7}, {"iteration": 192, "residual": 8.9e-8}, {"iteration": 195, "residual": 7.1e-8},
      {"iteration": 198, "residual": 5.0e-8}, {"iteration": 201, "residual": 5.6e-8}, {"iteration": 204, "residual": 3.5e-8}, {"iteration": 207, "residual": 4.0e-8},
      {"iteration": 210, "residual": 2.8e-8}, {"iteration": 213, "residual": 3.2e-8}, {"iteration": 216, "residual": 2.2e-8}, {"iteration": 219, "residual": 2.0e-8},
      {"iteration": 222, "residual": 3.2e-8}, {"iteration": 225, "residual": 1.4e-8}, {"iteration": 228, "residual": 1.1e-8}, {"iteration": 231, "residual": 7.1e-9},
      {"iteration": 234, "residual": 5.6e-9}, {"iteration": 237, "residual": 4.5e-9}, {"iteration": 240, "residual": 3.5e-9}, {"iteration": 243, "residual": 3.2e-9},
      {"iteration": 246, "residual": 2.2e-9}, {"iteration": 249, "residual": 2.0e-9}, {"iteration": 252, "residual": 1.4e-9}, {"iteration": 255, "residual": 1.1e-9},
      {"iteration": 258, "residual": 7.9e-10}, {"iteration": 260, "residual": 5.6e-10}, {"iteration": 262, "residual": 1.8e-9}, {"iteration": 263, "residual": 4.0e-10},
      {"iteration": 264, "residual": 2.2e-9}, {"iteration": 265, "residual": 6.3e-10}, {"iteration": 266, "residual": 7.1e-11}
    ],
    "geneo": [
      {"iteration": 0, "residual": 1.0}, {"iteration": 2, "residual": 0.126}, {"iteration": 5, "residual": 0.063}, {"iteration": 9, "residual": 0.045},
      {"iteration": 13, "residual": 0.032}, {"iteration": 17, "residual": 0.035}, {"iteration": 21, "residual": 0.042}, {"iteration": 25, "residual": 0.032},
      {"iteration": 29, "residual": 0.02}, {"iteration": 34, "residual": 0.0126}, {"iteration": 40, "residual": 0.0089}, {"iteration": 45, "residual": 0.0063},
      {"iteration": 50, "residual": 0.004}, {"iteration": 55, "residual": 0.0025}, {"iteration": 61, "residual": 0.0014}, {"iteration": 67, "residual": 0.00089},
      {"iteration": 73, "residual": 0.00056}, {"iteration": 80, "residual": 0.00035}, {"iteration": 86, "residual": 0.00025}, {"iteration": 93, "residual": 0.00018},
      {"iteration": 100, "residual": 0.00014}, {"iteration": 106, "residual": 0.00011}, {"iteration": 112, "residual": 8.9e-5}, {"iteration": 119, "residual": 7.1e-5},
      {"iteration": 125, "residual": 5.4e-5}, {"iteration": 131, "residual": 4.0e-5}, {"iteration": 137, "residual": 2.8e-5}, {"iteration": 144, "residual": 2.0e-5},
      {"iteration": 148, "residual": 2.8e-5}, {"iteration": 150, "residual": 3.5e-5}, {"iteration": 152, "residual": 4.5e-5}, {"iteration": 154, "residual": 2.5e-5},
      {"iteration": 156, "residual": 1.1e-5}, {"iteration": 158, "residual": 7.9e-6}, {"iteration": 161, "residual": 1.0e-5}, {"iteration": 164, "residual": 6.3e-6},
      {"iteration": 167, "residual": 7.9e-6}, {"iteration": 170, "residual": 5.0e-6}, {"iteration": 173, "residual": 6.3e-6}, {"iteration": 176, "residual": 4.2e-6},
      {"iteration": 179, "residual": 5.0e-6}, {"iteration": 182, "residual": 3.2e-6}, {"iteration": 185, "residual": 3.5e-6}, {"iteration": 188, "residual": 2.4e-6},
      {"iteration": 191, "residual": 2.8e-6}, {"iteration": 194, "residual": 1.9e-6}, {"iteration": 197, "residual": 2.2e-6}, {"iteration": 200, "residual": 3.5e-6},
      {"iteration": 202, "residual": 1.6e-6}, {"iteration": 205, "residual": 1.26e-6}, {"iteration": 208, "residual": 1.4e-6}, {"iteration": 211, "residual": 8.9e-7},
      {"iteration": 214, "residual": 7.1e-7}, {"iteration": 217, "residual": 7.9e-7}, {"iteration": 220, "residual": 4.5e-7}, {"iteration": 223, "residual": 5.0e-7},
      {"iteration": 226, "residual": 2.8e-7}, {"iteration": 229, "residual": 3.2e-7}, {"iteration": 232, "residual": 1.9e-7}, {"iteration": 235, "residual": 2.2e-7},
      {"iteration": 238, "residual": 1.26e-7}, {"iteration": 241, "residual": 1.4e-7}, {"iteration": 244, "residual": 8.9e-8}, {"iteration": 247, "residual": 1.1e-7},
      {"iteration": 250, "residual": 6.3e-8}, {"iteration": 253, "residual": 7.1e-8}, {"iteration": 256, "residual": 8.9e-8}, {"iteration": 259, "residual": 3.5e-8},
      {"iteration": 262, "residual": 4.0e-8}, {"iteration": 265, "residual": 2.5e-8}, {"iteration": 268, "residual": 2.8e-8}, {"iteration": 271, "residual": 1.8e-8},
      {"iteration": 274, "residual": 2.0e-8}, {"iteration": 277, "residual": 1.26e-8}, {"iteration": 280, "residual": 1.6e-8}, {"iteration": 283, "residual": 1.1e-8},
      {"iteration": 286, "residual": 1.4e-8}, {"iteration": 289, "residual": 1.0e-8}, {"iteration": 292, "residual": 1.26e-8}, {"iteration": 295, "residual": 8.9e-9},
      {"iteration": 298, "residual": 2.5e-8}, {"iteration": 301, "residual": 7.1e-9}, {"iteration": 304, "residual": 4.0e-9}, {"iteration": 307, "residual": 2.8e-9},
      {"iteration": 310, "residual": 2.0e-9}, {"iteration": 313, "residual": 2.2e-9}, {"iteration": 316, "residual": 1.4e-9}, {"iteration": 319, "residual": 1.8e-9},
      {"iteration": 322, "residual": 1.0e-9}, {"iteration": 325, "residual": 1.1e-9}, {"iteration": 328, "residual": 7.1e-10}, {"iteration": 331, "residual": 7.9e-10},
      {"iteration": 334, "residual": 5.0e-10}, {"iteration": 337, "residual": 4.0e-10}, {"iteration": 340, "residual": 4.5e-10}, {"iteration": 343, "residual": 2.8e-10},
      {"iteration": 346, "residual": 2.5e-10}, {"iteration": 349, "residual": 2.0e-10}, {"iteration": 352, "residual": 2.2e-10}, {"iteration": 355, "residual": 1.26e-10},
      {"iteration": 357, "residual": 9.5e-11}
    ]
  },
  "layer": [
    {
      "layer": [
        {
          "data": {"name": "ic"},
          "mark": {"type": "line", "strokeWidth": 1.6, "strokeJoin": "round"},
          "encoding": {
            "x": {"field": "iteration", "type": "quantitative", "scale": {"domain": [0, 6242], "nice": false, "zero": false},
              "axis": {"title": "Iteration", "values": [0, 1000, 2000, 3000, 4000, 5000, 6000], "format": "d", "domain": true, "titlePadding": 4}},
            "y": {"field": "residual", "type": "quantitative", "scale": {"type": "log", "domain": [2.51e-11, 95.5], "nice": false},
              "axis": {"title": "Relative Residual", "values": [10, 0.1, 0.001, 0.00001, 1e-7, 1e-9], "domain": true, "titlePadding": 6,
                "labelExpr": "'10' + replace(replace(replace(replace(replace(replace(replace(replace(replace(replace(replace('' + round(log(datum.value) / LN10), '-', '⁻'), '0', '⁰'), '1', '¹'), '2', '²'), '3', '³'), '4', '⁴'), '5', '⁵'), '6', '⁶'), '7', '⁷'), '8', '⁸'), '9', '⁹')"}},
            "color": {"datum": "IC", "type": "nominal",
              "scale": {"domain": ["IC", "EMD (IC + AMG V-cycle)", "EMD (IC + AMG W-cycle)", "EMD (IC + GenEO-DDM)", "Threshold"],
                        "range": ["#1f77b4", "#ff7f0e", "#2ca02c", "#d62728", "#ff0000"]},
              "legend": {"title": null, "orient": "none", "legendX": 86, "legendY": 11, "columns": 2, "symbolType": "stroke", "symbolSize": 784,
                "symbolStrokeWidth": 2, "labelFont": "Liberation Serif", "labelFontSize": 14.5, "labelColor": "#000", "labelOffset": 11, "labelLimit": 400,
                "rowPadding": 4.5, "columnPadding": 42, "clipHeight": 14, "padding": 0,
                "encode": {"symbols": {"update": {"strokeDash": {"signal": "datum.value === 'Threshold' ? [5.5, 2.4] : [1, 0]"}}}}}}
          }
        },
        {
          "data": {"name": "vcycle"},
          "mark": {"type": "line", "strokeWidth": 2, "strokeJoin": "round"},
          "encoding": {
            "x": {"field": "iteration", "type": "quantitative", "scale": {"domain": [0, 6242], "nice": false, "zero": false}},
            "y": {"field": "residual", "type": "quantitative", "scale": {"type": "log", "domain": [2.51e-11, 95.5], "nice": false}},
            "color": {"datum": "EMD (IC + AMG V-cycle)", "type": "nominal"}
          }
        },
        {
          "data": {"name": "wcycle"},
          "mark": {"type": "line", "strokeWidth": 2, "strokeJoin": "round"},
          "encoding": {
            "x": {"field": "iteration", "type": "quantitative", "scale": {"domain": [0, 6242], "nice": false, "zero": false}},
            "y": {"field": "residual", "type": "quantitative", "scale": {"type": "log", "domain": [2.51e-11, 95.5], "nice": false}},
            "color": {"datum": "EMD (IC + AMG W-cycle)", "type": "nominal"}
          }
        },
        {
          "data": {"name": "geneo"},
          "mark": {"type": "line", "strokeWidth": 2, "strokeJoin": "round"},
          "encoding": {
            "x": {"field": "iteration", "type": "quantitative", "scale": {"domain": [0, 6242], "nice": false, "zero": false}},
            "y": {"field": "residual", "type": "quantitative", "scale": {"type": "log", "domain": [2.51e-11, 95.5], "nice": false}},
            "color": {"datum": "EMD (IC + GenEO-DDM)", "type": "nominal"}
          }
        },
        {
          "data": {"values": [{}]},
          "mark": {"type": "rule", "color": "#ff0000", "strokeWidth": 1.5, "strokeDash": [5.5, 2.4]},
          "encoding": {"y": {"datum": 1e-10, "type": "quantitative", "scale": {"type": "log", "domain": [2.51e-11, 95.5], "nice": false}}}
        },
        {
          "data": {"values": [{}]},
          "mark": {"type": "rule", "color": "#000", "strokeWidth": 1.1},
          "encoding": {"y": {"datum": 95.5, "type": "quantitative", "scale": {"type": "log", "domain": [2.51e-11, 95.5], "nice": false}}}
        }
      ]
    },
    {
      "layer": [
        {
          "data": {"values": [{}]},
          "mark": {"type": "rect", "fill": "white", "stroke": "#000", "strokeWidth": 1.1},
          "encoding": {
            "x": {"datum": 0, "type": "quantitative", "scale": {"domain": [-171.7, 868.7], "nice": false, "zero": false},
              "axis": {"orient": "bottom", "offset": -44.3, "values": [0, 100, 200, 300], "format": "d", "domain": false, "title": null, "labelFontSize": 13, "zindex": 1}},
            "x2": {"datum": 374},
            "y": {"datum": 1e-10, "type": "quantitative", "scale": {"type": "log", "domain": [2.04e-14, 7.76e16], "nice": false},
              "axis": {"orient": "left", "offset": -89.3, "values": [0.01, 0.000001, 1e-10], "domain": false, "title": null, "labelFontSize": 13, "zindex": 1,
                "labelExpr": "'10' + replace(replace(replace(replace(replace(replace(replace(replace(replace(replace(replace('' + round(log(datum.value) / LN10), '-', '⁻'), '0', '⁰'), '1', '¹'), '2', '²'), '3', '³'), '4', '⁴'), '5', '⁵'), '6', '⁶'), '7', '⁷'), '8', '⁸'), '9', '⁹')"}},
            "y2": {"datum": 10}
          }
        },
        {
          "data": {"name": "ic"},
          "transform": [{"filter": "datum.iteration <= 374"}],
          "mark": {"type": "line", "strokeWidth": 1.8, "strokeJoin": "round"},
          "encoding": {
            "x": {"field": "iteration", "type": "quantitative", "scale": {"domain": [-171.7, 868.7], "nice": false, "zero": false}},
            "y": {"field": "residual", "type": "quantitative", "scale": {"type": "log", "domain": [2.04e-14, 7.76e16], "nice": false}},
            "color": {"datum": "IC", "type": "nominal"}
          }
        },
        {
          "data": {"name": "vcycle"},
          "mark": {"type": "line", "strokeWidth": 1.8, "strokeJoin": "round"},
          "encoding": {
            "x": {"field": "iteration", "type": "quantitative", "scale": {"domain": [-171.7, 868.7], "nice": false, "zero": false}},
            "y": {"field": "residual", "type": "quantitative", "scale": {"type": "log", "domain": [2.04e-14, 7.76e16], "nice": false}},
            "color": {"datum": "EMD (IC + AMG V-cycle)", "type": "nominal"}
          }
        },
        {
          "data": {"name": "wcycle"},
          "mark": {"type": "line", "strokeWidth": 1.8, "strokeJoin": "round"},
          "encoding": {
            "x": {"field": "iteration", "type": "quantitative", "scale": {"domain": [-171.7, 868.7], "nice": false, "zero": false}},
            "y": {"field": "residual", "type": "quantitative", "scale": {"type": "log", "domain": [2.04e-14, 7.76e16], "nice": false}},
            "color": {"datum": "EMD (IC + AMG W-cycle)", "type": "nominal"}
          }
        },
        {
          "data": {"name": "geneo"},
          "mark": {"type": "line", "strokeWidth": 1.8, "strokeJoin": "round"},
          "encoding": {
            "x": {"field": "iteration", "type": "quantitative", "scale": {"domain": [-171.7, 868.7], "nice": false, "zero": false}},
            "y": {"field": "residual", "type": "quantitative", "scale": {"type": "log", "domain": [2.04e-14, 7.76e16], "nice": false}},
            "color": {"datum": "EMD (IC + GenEO-DDM)", "type": "nominal"}
          }
        },
        {
          "data": {"values": [{}]},
          "mark": {"type": "rule", "color": "#ff0000", "strokeWidth": 1.5, "strokeDash": [5.5, 2.4]},
          "encoding": {
            "x": {"datum": 0, "type": "quantitative", "scale": {"domain": [-171.7, 868.7], "nice": false, "zero": false}},
            "x2": {"datum": 374},
            "y": {"datum": 1e-10, "type": "quantitative", "scale": {"type": "log", "domain": [2.04e-14, 7.76e16], "nice": false}}
          }
        }
      ]
    }
  ],
  "resolve": {"scale": {"x": "independent", "y": "independent"}, "axis": {"x": "independent", "y": "independent"}}
}
